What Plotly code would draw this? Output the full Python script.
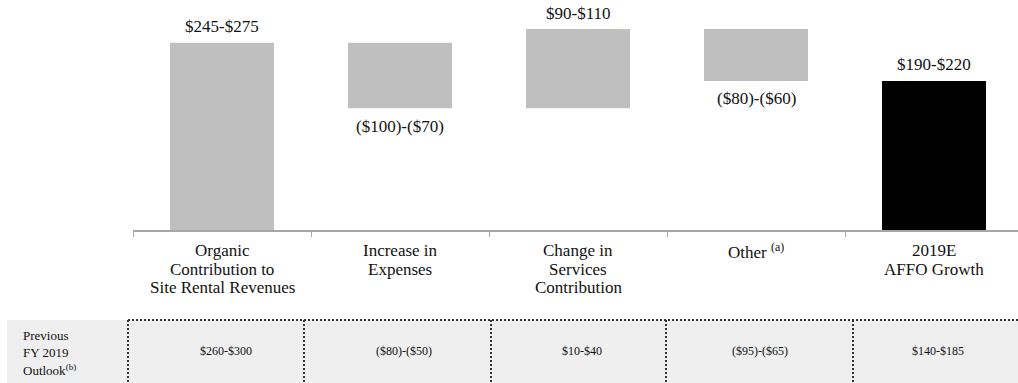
import plotly.graph_objects as go

# ---- data ----
categories = ["Organic", "Expenses", "Services", "Other", "2019E"]
category_labels = [
    "Organic<br>Contribution to<br>Site Rental Revenues",
    "Increase in<br>Expenses",
    "Change in<br>Services<br>Contribution",
    "Other <sup>(a)</sup>",
    "2019E<br>AFFO Growth",
]
measures = ["relative", "relative", "relative", "relative", "total"]
values = [260, -91, 110, -72, 0]
bar_labels = ["$245-$275", "($100)-($70)", "$90-$110", "($80)-($60)", "$190-$220"]
previous_outlook = ["$260-$300", "($80)-($50)", "$10-$40", "($95)-($65)", "$140-$185"]
row_label = ["Previous", "FY 2019", "Outlook<sup>(b)</sup>"]

# ---- style / layout constants ----
W, H = 1018, 383
ML, MT, MB = 133, 0, 153
PLOT_H = H - MT - MB
PLOT_W = W - ML
SERIF = "Liberation Serif, Times New Roman, serif"
GRAY = "#bfbfbf"
TXT = "#111111"

def py(px):  # pixel y -> paper y
    return (PLOT_H - (px - MT)) / PLOT_H

def pxp(px):  # pixel x -> paper x
    return (px - ML) / PLOT_W

fig = go.Figure()
fig.add_trace(go.Waterfall(
    x=categories, y=values, measure=measures,
    width=0.584,
    increasing=dict(marker=dict(color=GRAY, line=dict(width=0))),
    decreasing=dict(marker=dict(color=GRAY, line=dict(width=0))),
    totals=dict(marker=dict(color="#000000", line=dict(width=0))),
    connector=dict(visible=False),
    hoverinfo="skip",
))

annotations = []
# bar labels from cumulative values
cum = 0
for i, (m, v) in enumerate(zip(measures, values)):
    if m == "total":
        end = cum
        above = True
    else:
        cum += v
        end = cum
        above = v >= 0
    annotations.append(dict(
        x=categories[i], y=end, xref="x", yref="y",
        text=bar_labels[i], showarrow=False,
        yanchor="middle", yshift=16 if above else -18,
        font=dict(family=SERIF, size=17, color=TXT),
    ))

# category labels, one annotation per line for tight spacing
for i, lab in enumerate(category_labels):
    for j, line in enumerate(lab.split("<br>")):
        annotations.append(dict(
            x=categories[i], y=py(251 + 18 * j), xref="x", yref="paper",
            text=line, showarrow=False, yanchor="middle",
            font=dict(family=SERIF, size=17, color=TXT),
        ))

# table row
ROW_TOP = 320
for i, val in enumerate(previous_outlook):
    annotations.append(dict(
        x=categories[i], y=py(ROW_TOP + 31), xref="x", yref="paper",
        xshift=4, text=val, showarrow=False, yanchor="middle",
        font=dict(family=SERIF, size=12, color=TXT),
    ))
for j, line in enumerate(row_label):
    annotations.append(dict(
        x=pxp(21), y=py(ROW_TOP + 15 + 17.5 * j), xref="paper", yref="paper",
        xanchor="left", yanchor="middle", text=line, showarrow=False,
        font=dict(family=SERIF, size=13, color=TXT),
    ))

shapes = [
    dict(type="rect", xref="paper", yref="paper",
         x0=pxp(7), x1=1.02, y0=py(ROW_TOP), y1=py(H + 20),
         fillcolor="#efefef", line=dict(width=0), layer="below"),
    dict(type="line", xref="paper", yref="paper",
         x0=pxp(128), x1=1.0, y0=py(ROW_TOP), y1=py(ROW_TOP),
         line=dict(color="#333", width=2, dash="2px,2px")),
]
for vx in [128, 304, 491, 666, 853]:
    shapes.append(dict(type="line", xref="paper", yref="paper",
                       x0=pxp(vx), x1=pxp(vx), y0=py(ROW_TOP), y1=py(H + 20),
                       line=dict(color="#333", width=2, dash="2px,2px")))

fig.update_layout(
    width=W, height=H,
    margin=dict(l=ML, r=0, t=MT, b=MB, pad=0),
    paper_bgcolor="white", plot_bgcolor="white",
    showlegend=False,
    annotations=annotations, shapes=shapes,
    xaxis=dict(
        range=[-0.5, -0.5 + PLOT_W / 178.0],
        showline=True, linecolor="#a6a6a6", linewidth=1.5,
        ticks="outside", tickson="boundaries", ticklen=5,
        tickcolor="#a6a6a6", tickwidth=1,
        showticklabels=False, showgrid=False, zeroline=False,
        fixedrange=True,
    ),
    yaxis=dict(
        range=[0, PLOT_H / 0.7204],
        visible=False, showgrid=False, zeroline=False, fixedrange=True,
    ),
)

fig.write_html("out.html")
